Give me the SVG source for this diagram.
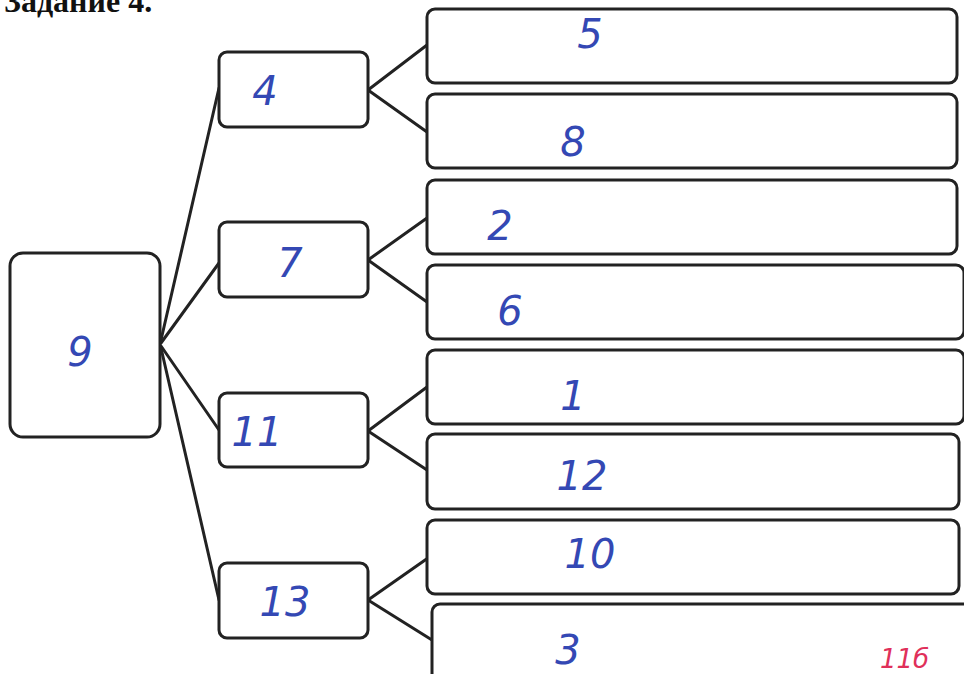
<svg xmlns="http://www.w3.org/2000/svg" width="964" height="674" viewBox="0 0 964 674">
<style>
.box{fill:#fff;stroke:#222;stroke-width:3}
.ln{stroke:#222;stroke-width:3;fill:none;stroke-linecap:round}
.hw{font-family:"DejaVu Sans","Liberation Sans",sans-serif;font-style:italic;fill:#3448b4;text-anchor:middle;font-size:40px}
.title{font-family:"Liberation Serif",serif;font-weight:bold;font-size:32px;fill:#111}
.grade{font-family:"DejaVu Sans",sans-serif;font-style:italic;fill:#e0305a;font-size:26px}
</style>
<rect width="964" height="674" fill="#fff"/>
<text class="title" x="4" y="12">Задание 4.</text>
<g id="connectors">
<line class="ln" x1="161" y1="340" x2="219" y2="88"/>
<line class="ln" x1="161" y1="343" x2="219" y2="263"/>
<line class="ln" x1="161" y1="346" x2="219" y2="430"/>
<line class="ln" x1="161" y1="348" x2="219" y2="600"/>
<line class="ln" x1="368" y1="90" x2="427" y2="45"/>
<line class="ln" x1="368" y1="90" x2="427" y2="132"/>
<line class="ln" x1="368" y1="260" x2="427" y2="218"/>
<line class="ln" x1="368" y1="260" x2="427" y2="302"/>
<line class="ln" x1="368" y1="431" x2="427" y2="387"/>
<line class="ln" x1="368" y1="431" x2="427" y2="470"/>
<line class="ln" x1="368" y1="600" x2="428" y2="558"/>
<line class="ln" x1="368" y1="600" x2="432" y2="640"/>
</g>
<g id="n9"><rect class="box" x="10" y="253" width="150" height="184" rx="13"/><text class="hw" x="80" y="366" font-size="54">9</text></g>
<g id="n4"><rect class="box" x="219" y="52" width="149" height="75" rx="8"/><text class="hw" x="265" y="105">4</text></g>
<g id="n7"><rect class="box" x="219" y="222" width="149" height="75" rx="8"/><text class="hw" x="290" y="277">7</text></g>
<g id="n11"><rect class="box" x="219" y="393" width="149" height="74" rx="8"/><text class="hw" x="257" y="446">11</text></g>
<g id="n13"><rect class="box" x="219" y="563" width="149" height="75" rx="8"/><text class="hw" x="285" y="616">13</text></g>
<g id="n5"><rect class="box" x="427" y="9" width="530" height="74" rx="8"/><text class="hw" x="590" y="48">5</text></g>
<g id="n8"><rect class="box" x="427" y="94" width="530" height="74" rx="8"/><text class="hw" x="573" y="156">8</text></g>
<g id="n2"><rect class="box" x="427" y="180" width="530" height="74" rx="8"/><text class="hw" x="500" y="240">2</text></g>
<g id="n6"><rect class="box" x="427" y="265" width="537" height="74" rx="8"/><text class="hw" x="510" y="325">6</text></g>
<g id="n1"><rect class="box" x="427" y="350" width="537" height="74" rx="8"/><text class="hw" x="573" y="410">1</text></g>
<g id="n12"><rect class="box" x="427" y="434" width="532" height="75" rx="8"/><text class="hw" x="582" y="490">12</text></g>
<g id="n10"><rect class="box" x="427" y="520" width="532" height="74" rx="8"/><text class="hw" x="590" y="568">10</text></g>
<g id="n3"><rect class="box" x="432" y="604" width="540" height="80" rx="8"/><text class="hw" x="568" y="664">3</text></g>
<text class="grade" x="880" y="668">11б</text>
</svg>
